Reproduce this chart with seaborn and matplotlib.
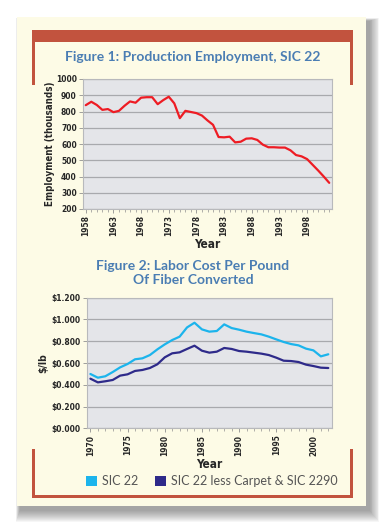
import numpy as np
import pandas as pd
import seaborn as sns
import matplotlib
import matplotlib.pyplot as plt
from matplotlib.patches import Rectangle
from matplotlib.ticker import MultipleLocator, FuncFormatter

# Figure 1 data: production employment (thousands)
emp_years = list(range(1958, 2003))
employment = [839, 860, 840, 810, 815, 796, 804, 835, 862, 854,
              885, 888, 888, 845, 870, 891, 850, 759, 804, 797,
              790, 775, 745, 718, 643, 641, 645, 610, 614, 633,
              635, 625, 596, 580, 580, 578, 578, 561, 532, 524,
              507, 472, 437, 400, 361]

# Figure 2 data: labor cost per pound of fiber converted ($/lb)
cost_years = list(range(1970, 2003))
sic22 = [0.499, 0.465, 0.478, 0.517, 0.560, 0.591, 0.634, 0.643, 0.673, 0.725,
         0.771, 0.811, 0.842, 0.927, 0.970, 0.909, 0.888, 0.894, 0.955, 0.921,
         0.906, 0.888, 0.875, 0.863, 0.842, 0.817, 0.793, 0.774, 0.762, 0.732,
         0.716, 0.661, 0.680]
sic22_less = [0.456, 0.422, 0.432, 0.444, 0.484, 0.496, 0.527, 0.536, 0.554, 0.588,
              0.652, 0.689, 0.698, 0.729, 0.759, 0.713, 0.695, 0.704, 0.738, 0.729,
              0.710, 0.704, 0.695, 0.686, 0.673, 0.649, 0.621, 0.618, 0.609, 0.585,
              0.572, 0.557, 0.554]
series_names = ['SIC 22', 'SIC 22 less Carpet & SIC 2290']

sns.set_style('white')
plt.rcParams['font.family'] = ['DejaVu Sans']

cream = '#fdfbe6'
plot_bg = '#e4e5e9'
grid_col = '#a8a9ad'
title_col = '#4a7db3'
bracket_col = '#c2533e'
red = '#ee1c24'
light_blue = '#1cb4ec'
navy = '#2e2a8a'

W, H = 383, 527
fig = plt.figure(figsize=(W / 100, H / 100), dpi=100)
fig.patch.set_facecolor('white')

# background: shadow, cream panel, red brackets (pixel coords)
bg = fig.add_axes([0, 0, 1, 1])
bg.set_xlim(0, W)
bg.set_ylim(H, 0)
bg.axis('off')
for i in range(12, 0, -1):
    bg.add_patch(Rectangle((17 - i * 0.35 + 3, 17 - i * 0.25 + 4), 349 + i * 1.2, 489 + i * 1.25,
                           fc='#303030', ec='none', alpha=0.045))
bg.add_patch(Rectangle((17, 17), 349, 489, fc=cream, ec='none'))
bg.add_patch(Rectangle((32, 30), 321, 12, fc=bracket_col, ec='none'))
bg.add_patch(Rectangle((32, 30), 3, 55, fc=bracket_col, ec='none'))
bg.add_patch(Rectangle((350, 30), 3, 55, fc=bracket_col, ec='none'))
bg.add_patch(Rectangle((32, 495), 321, 3, fc=bracket_col, ec='none'))
bg.add_patch(Rectangle((32, 449), 3, 49, fc=bracket_col, ec='none'))
bg.add_patch(Rectangle((350, 449), 3, 49, fc=bracket_col, ec='none'))

tick_font = dict(fontsize=6, fontweight='bold', fontstretch='condensed')
lab_font = dict(fontweight='bold', fontstretch='condensed')


def style_axes(ax):
    ax.set_facecolor(plot_bg)
    ax.grid(axis='y', color=grid_col, lw=0.9)
    ax.grid(axis='x', visible=False)
    ax.set_axisbelow(True)
    for s in ax.spines.values():
        s.set_color('#b8b9bc')
        s.set_linewidth(0.8)
    ax.tick_params(axis='both', which='major', length=3, width=0.6, color='#909090', pad=1.5)
    ax.tick_params(axis='x', which='minor', length=2, width=0.5, color='#909090', bottom=True)
    ax.tick_params(axis='y', left=True)
    ax.tick_params(axis='x', bottom=True)
    ax.xaxis.set_minor_locator(MultipleLocator(1))
    for lab in ax.get_xticklabels():
        lab.set_rotation(90)
        lab.set(**tick_font)
    for lab in ax.get_yticklabels():
        lab.set(**tick_font)


# Figure 1
ax1 = fig.add_axes([83 / W, 1 - 209 / H, 249 / W, 130 / H])
df1 = pd.DataFrame({'Year': emp_years, 'Employment': employment})
sns.lineplot(data=df1, x='Year', y='Employment', ax=ax1, color=red, lw=1.6)
ax1.set_xlim(1957.5, 2002.5)
ax1.set_ylim(200, 1000)
ax1.set_xticks(range(1958, 2003, 5))
ax1.set_yticks(range(200, 1001, 100))
style_axes(ax1)
ax1.set_xlabel('Year', fontsize=8.5, **lab_font)
ax1.xaxis.set_label_coords(0.5, -(244 - 209) / 130)
ax1.xaxis.label.set_va('center')
ax1.set_ylabel('Employment (thousands)', fontsize=7, **lab_font)
ax1.yaxis.set_label_coords((50 - 83) / 249, 0.5)
ax1.yaxis.label.set_va('center')
fig.text(193 / W, 1 - 57 / H, 'Figure 1: Production Employment, SIC 22',
         ha='center', va='center', color=title_col, fontsize=10, fontweight='bold',
         family='Lato')

# Figure 2
ax2 = fig.add_axes([86.7 / W, 1 - 428.3 / H, 245.3 / W, 130.6 / H])
df2 = pd.DataFrame({'Year': cost_years * 2,
                    'Cost': sic22 + sic22_less,
                    'Series': [series_names[0]] * len(cost_years) + [series_names[1]] * len(cost_years)})
sns.lineplot(data=df2, x='Year', y='Cost', hue='Series', ax=ax2,
             palette=[light_blue, navy], lw=1.6, legend=False)
ax2.set_xlim(1969.5, 2002.5)
ax2.set_ylim(0, 1.2)
ax2.set_xticks(range(1970, 2003, 5))
ax2.set_yticks(np.arange(0, 1.21, 0.2))
ax2.yaxis.set_major_formatter(FuncFormatter(lambda v, p: '${:.3f}'.format(v)))
style_axes(ax2)
ax2.set_xlabel('Year', fontsize=8.5, **lab_font)
ax2.xaxis.set_label_coords(0.5, -(464 - 428.3) / 130.6)
ax2.xaxis.label.set_va('center')
ax2.set_ylabel('$/lb', fontsize=7.5, **lab_font)
ax2.yaxis.set_label_coords((43 - 86.7) / 245.3, 0.5)
ax2.yaxis.label.set_va('center')
fig.text(193 / W, 1 - 273 / H, 'Figure 2: Labor Cost Per Pound\nOf Fiber Converted',
         ha='center', va='center', color=title_col, fontsize=10, fontweight='bold',
         linespacing=1.2, family='Lato')

# legend
handles = [Rectangle((0, 0), 1, 1, fc=c, ec='none') for c in [light_blue, navy]]
fig.legend(handles, series_names, loc='center', bbox_to_anchor=(212 / W, 1 - 481 / H),
           ncol=2, frameon=False, handlelength=0.9, handleheight=0.9,
           handletextpad=0.4, columnspacing=1.3, labelcolor='#555555',
           prop=dict(family='Lato', size=9))

fig.savefig('out.png', dpi=100, facecolor='white')
